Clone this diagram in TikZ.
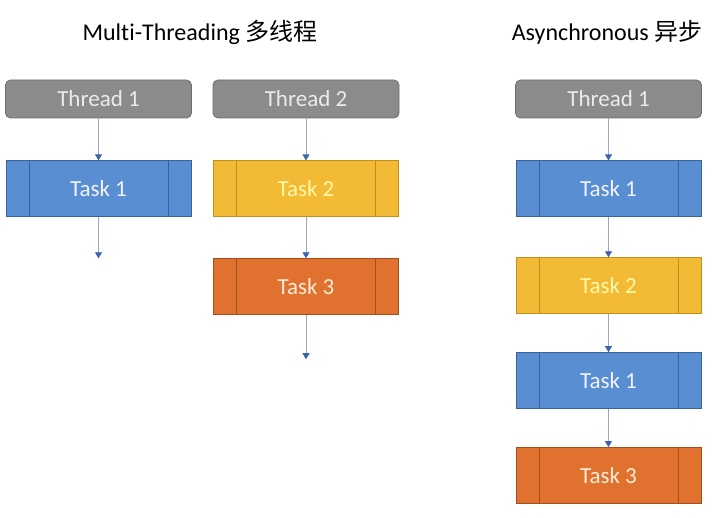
\documentclass[tikz,border=0pt]{standalone}
\usepackage{fontspec}
\setmainfont{Carlito}[Ligatures=NoCommon]
\newfontfamily\cjk{Noto Sans CJK SC}
\usetikzlibrary{arrows.meta,positioning}
\definecolor{threadgrey}{HTML}{8B8B8B}
\definecolor{threadline}{HTML}{6E6E6E}
\definecolor{taskblue}{HTML}{5A8ED3}
\definecolor{taskblueline}{HTML}{3A6499}
\definecolor{taskyellow}{HTML}{F3BA35}
\definecolor{taskyellowline}{HTML}{C28F18}
\definecolor{taskorange}{HTML}{E0712F}
\definecolor{taskorangeline}{HTML}{A2501B}
\definecolor{arrline}{HTML}{9AA8C4}
\definecolor{arrtip}{HTML}{3F63A8}

\begin{document}
\begin{tikzpicture}[
  x=1pt, y=-1pt,
  node distance=42pt,
  thread/.style={draw=threadline, fill=threadgrey, rounded corners=5pt, line width=0.8pt,
    minimum width=186pt, minimum height=38pt, text=white!92!black, font=\fontsize{23}{26}\selectfont},
  task/.style={draw=#1line, fill=#1, line width=0.9pt, minimum width=185pt, minimum height=56pt,
    font=\fontsize{23}{26}\selectfont,
    path picture={
      \draw[#1line, line width=0.9pt] ([xshift=23pt]path picture bounding box.north west) -- ([xshift=23pt]path picture bounding box.south west);
      \draw[#1line, line width=0.9pt] ([xshift=-23pt]path picture bounding box.north east) -- ([xshift=-23pt]path picture bounding box.south east);
    }},
  title/.style={font=\fontsize{24}{28}\selectfont, text=black},
  arr/.style={-{Triangle[length=6pt, width=7pt, color=arrtip]}, draw=arrline, line width=0.9pt},
]
  \useasboundingbox (0,0) rectangle (715,518);

  % Titles
  \node[title] (mtitle) at (200,32) {Multi-Threading {\cjk 多线程}};
  \node[title] (atitle) at (607,32) {Asynchronous {\cjk 异步}};

  % Multi-threading: thread 1
  \node[thread] (thA) at (98.5,99) {Thread 1};
  \node[task=taskblue, text=blue!5!white, below=of thA] (tkA) {Task 1};
  \coordinate[below=41pt of tkA] (endA);

  % Multi-threading: thread 2
  \node[thread] (thB) at (306,99) {Thread 2};
  \node[task=taskyellow, text=yellow!35!white, below=of thB] (tkB) {Task 2};
  \node[task=taskorange, text=orange!15!white, below=41pt of tkB] (tkC) {Task 3};
  \coordinate[below=44pt of tkC] (endB);

  % Asynchronous: one thread
  \node[thread] (thR) at (608.5,99) {Thread 1};
  \node[task=taskblue, text=blue!5!white, below=of thR] (rkA) {Task 1};
  \node[task=taskyellow, text=yellow!35!white, below=40pt of rkA] (rkB) {Task 2};
  \node[task=taskblue, text=blue!5!white, below=38pt of rkB] (rkC) {Task 1};
  \node[task=taskorange, text=orange!15!white, below=38pt of rkC] (rkD) {Task 3};

  % Edges
  \draw[arr] (thA) -- (tkA);
  \draw[arr] (tkA) -- (endA);
  \draw[arr] (thB) -- (tkB);
  \draw[arr] (tkB) -- (tkC);
  \draw[arr] (tkC) -- (endB);
  \draw[arr] (thR) -- (rkA);
  \draw[arr] (rkA) -- (rkB);
  \draw[arr] (rkB) -- (rkC);
  \draw[arr] (rkC) -- (rkD);
\end{tikzpicture}
\end{document}
